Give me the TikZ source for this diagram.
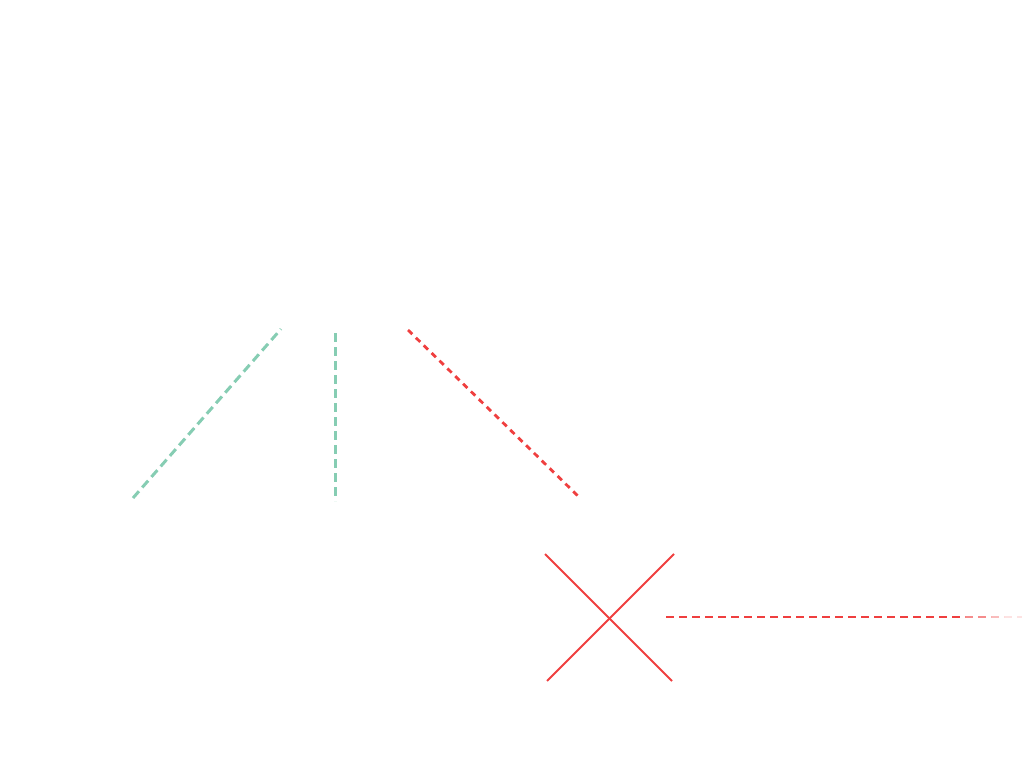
\documentclass[tikz,border=0pt]{standalone}
\begin{document}
\begin{tikzpicture}[x=1pt,y=-1pt,
  greenline/.style={draw=tealg, line width=3pt, dash pattern=on 9pt off 5pt},
  reddiag/.style={draw=redl, line width=2.8pt, dash pattern=on 6pt off 5pt},
  redhor/.style={draw=redl, line width=2.8pt, dash pattern=on 8pt off 5pt},
  cross/.style={draw=redl, line width=1.8pt}]
\definecolor{tealg}{HTML}{86CDB3}
\definecolor{redl}{HTML}{EF3F3F}
\useasboundingbox (0,0) rectangle (1024,775);
\coordinate (g1a) at (133,498); \coordinate (g1b) at (281,329);
\coordinate (g2a) at (335,333); \coordinate (g2b) at (335,501);
\coordinate (r1a) at (408,330); \coordinate (r1b) at (578,496);
\coordinate (x1a) at (545,554); \coordinate (x1b) at (672,681);
\coordinate (x2a) at (674,554); \coordinate (x2b) at (547,681);
\coordinate (h0) at (666,617); \coordinate (h1) at (965,617);
\coordinate (h2) at (991,617); \coordinate (h3) at (1004,617); \coordinate (h4) at (1022,617);
\draw[greenline] (g1a) -- (g1b);
\draw[greenline] (g2a) -- (g2b);
\draw[reddiag] (r1a) -- (r1b);
\draw[cross] (x1a) -- (x1b);
\draw[cross] (x2a) -- (x2b);
\draw[redhor] (h0) -- (h1);
\draw[redhor, draw opacity=0.6] (h1) -- (h2);
\draw[redhor, draw opacity=0.35] (h2) -- (h3);
\draw[redhor, draw opacity=0.15] (h3) -- (h4);
\end{tikzpicture}
\end{document}
